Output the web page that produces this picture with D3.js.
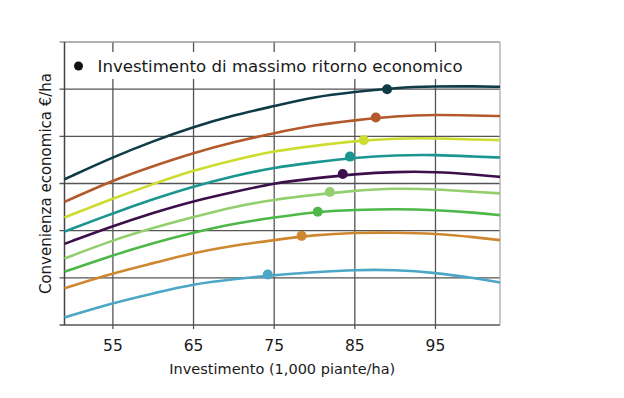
<!DOCTYPE html>
<html>
<head>
<meta charset="utf-8">
<script src="https://cdn.jsdelivr.net/npm/d3@7"></script>
<style>
  body { margin: 0; background: #fff; }
  text { font-family: "DejaVu Sans", sans-serif; fill: #1a1a1a; }
</style>
</head>
<body>
<div id="chart"></div>
<script>
// x positions where the curves were read (1,000 piante/ha)
const investimento = [49, 55, 60, 65, 70, 75, 80, 85, 90, 95, 100, 103];

// curves, top to bottom (values in grid units, no labels on the y axis)
const serie1 = [3.09, 3.56, 3.9, 4.2, 4.45, 4.64, 4.84, 4.94, 5.03, 5.06, 5.06, 5.05];
const serie2 = [2.61, 3.07, 3.37, 3.65, 3.88, 4.07, 4.24, 4.34, 4.43, 4.46, 4.44, 4.43];
const serie3 = [2.28, 2.68, 2.99, 3.28, 3.5, 3.69, 3.8, 3.9, 3.96, 3.96, 3.93, 3.92];
const serie4 = [1.98, 2.37, 2.67, 2.94, 3.16, 3.34, 3.45, 3.55, 3.6, 3.61, 3.57, 3.55];
const serie5 = [1.72, 2.1, 2.38, 2.63, 2.82, 3.01, 3.11, 3.2, 3.25, 3.25, 3.19, 3.14];
const serie6 = [1.41, 1.8, 2.06, 2.29, 2.51, 2.66, 2.76, 2.85, 2.9, 2.88, 2.82, 2.79];
const serie7 = [1.13, 1.48, 1.74, 1.96, 2.15, 2.28, 2.4, 2.44, 2.46, 2.44, 2.38, 2.33];
const serie8 = [0.78, 1.1, 1.31, 1.53, 1.69, 1.8, 1.91, 1.96, 1.96, 1.94, 1.86, 1.8];
const serie9 = [0.16, 0.47, 0.67, 0.87, 0.97, 1.06, 1.12, 1.17, 1.17, 1.11, 0.99, 0.9];

// points of maximum economic return, same order as the curves
const massimoX = [89.0, 87.6, 86.1, 84.4, 83.5, 81.9, 80.4, 78.4, 74.2];
const massimoY = [5.0, 4.4, 3.92, 3.57, 3.2, 2.82, 2.4, 1.89, 1.07];

const colori = ["#0f3b46", "#b3592b", "#cddc2e", "#1b9590", "#3c0f4b", "#93cf6f", "#4db848", "#cf872f", "#4ba7c5"];

const xTicks = [55, 65, 75, 85, 95];
const yTicks = [0, 1, 2, 3, 4, 5, 6];

const legendaTesto = "Investimento di massimo ritorno economico";
const xTitolo = "Investimento (1,000 piante/ha)";
const yTitolo = "Convenienza economica €/ha";

const serie = [serie1, serie2, serie3, serie4, serie5, serie6, serie7, serie8, serie9];

// set the dimensions and margins of the graph
const margin = { top: 42, right: 124, bottom: 73, left: 64.5 },
  width = 624 - margin.left - margin.right,
  height = 398 - margin.top - margin.bottom;

const x = d3.scaleLinear().domain([49, 103]).range([0, width]);
const y = d3.scaleLinear().domain([0, 6]).range([height, 0]);

const svg = d3
  .select("#chart")
  .append("svg")
  .attr("width", 624)
  .attr("height", 398)
  .append("g")
  .attr("transform", "translate(" + margin.left + "," + margin.top + ")");

// grid lines
svg
  .append("g")
  .selectAll("line")
  .data(xTicks)
  .enter()
  .append("line")
  .attr("x1", (d) => x(d))
  .attr("x2", (d) => x(d))
  .attr("y1", 0)
  .attr("y2", height + 4)
  .attr("stroke", "#555")
  .attr("stroke-width", 1.3);

svg
  .append("g")
  .selectAll("line")
  .data(yTicks)
  .enter()
  .append("line")
  .attr("x1", -5)
  .attr("x2", width)
  .attr("y1", (d) => y(d))
  .attr("y2", (d) => y(d))
  .attr("stroke", (d) => (d === 6 ? "#999" : "#555"))
  .attr("stroke-width", 1.3);

// right border and left axis
svg
  .append("line")
  .attr("x1", width)
  .attr("x2", width)
  .attr("y1", 0)
  .attr("y2", height)
  .attr("stroke", "#aaa")
  .attr("stroke-width", 1.3);

svg
  .append("line")
  .attr("x1", 0)
  .attr("x2", 0)
  .attr("y1", 0)
  .attr("y2", height)
  .attr("stroke", "#444")
  .attr("stroke-width", 1.5);

// legend box covers the grid
svg
  .append("rect")
  .attr("x", 1.5)
  .attr("y", 10)
  .attr("width", width - 2.5)
  .attr("height", 27)
  .attr("fill", "#fff");

svg
  .append("circle")
  .attr("cx", 14)
  .attr("cy", 24)
  .attr("r", 4.5)
  .attr("fill", "#111");

svg
  .append("text")
  .attr("x", 33)
  .attr("y", 30)
  .style("font-size", "16.6px")
  .text(legendaTesto);

// the curves
const line = d3
  .line()
  .x((d, i) => x(investimento[i]))
  .y((d) => y(d))
  .curve(d3.curveBasis);

serie.forEach((s, i) => {
  svg
    .append("path")
    .datum(s)
    .attr("fill", "none")
    .attr("stroke", colori[i])
    .attr("stroke-width", 2.6)
    .attr("d", line);
});

svg
  .append("g")
  .selectAll("circle")
  .data(massimoX)
  .enter()
  .append("circle")
  .attr("cx", (d) => x(d))
  .attr("cy", (d, i) => y(massimoY[i]))
  .attr("r", 5)
  .attr("fill", (d, i) => colori[i]);

// x axis tick labels
svg
  .append("g")
  .selectAll("text")
  .data(xTicks)
  .enter()
  .append("text")
  .attr("x", (d) => x(d))
  .attr("y", height + 26)
  .style("text-anchor", "middle")
  .style("font-size", "15.5px")
  .text((d) => d);

// x axis label
svg
  .append("text")
  .attr("transform", "translate(" + width / 2 + "," + (height + 49) + ")")
  .style("text-anchor", "middle")
  .style("font-size", "14.5px")
  .text(xTitolo);

// y axis label
svg
  .append("text")
  .attr("transform", "rotate(-90)")
  .attr("y", -14)
  .attr("x", 0 - height / 2)
  .style("text-anchor", "middle")
  .style("font-size", "15px")
  .text(yTitolo);
</script>
</body>
</html>
